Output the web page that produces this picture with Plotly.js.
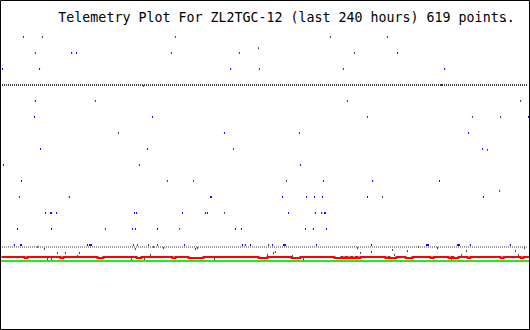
<!DOCTYPE html>
<html>
<head>
<meta charset="utf-8">
<script src="https://cdn.plot.ly/plotly-3.0.1.min.js"></script>
<style>
  html, body { margin: 0; padding: 0; background: #ffffff; }
  #chart { width: 530px; height: 330px; }
</style>
</head>
<body>
<div id="chart"></div>
<script>
// ---- Data (x: hours over the last 240 h, y: channel value in plot units) ----
const titleText = "Telemetry Plot For ZL2TGC-12 (last 240 hours) 619 points.";

// Channel 1 (dark) : dense run at level 10 plus scattered readings
const ch1RunHours = [0.68, 238.86];
const ch1RunLevel = [10, 10];
const ch1Hours = [125.0, 10.4, 19.0, 79.2, 149.4, 175.2, 15.8, 77.4, 108.2, 160.3, 116.8, 117.3, 155.3, 64.8,
  43.0, 157.1, 235.5, 166.2, 213.7, 226.4, 53.4, 135.4, 105.5, 220.5, 62.9, 75.6, 87.4, 129.5, 8.6, 173.0,
  226.0, 101.4, 47.5, 81.1, 60.2, 62.0, 67.0, 71.1, 121.4,
  16.8, 61.1, 69.3, 73.8, 19.9, 25.8, 29.4, 35.8, 34.9, 67.9, 21.3, 23.1, 59.3, 65.2, 88.3, 89.2, 161.7,
  120.9, 123.6, 124.5, 132.2, 96.9, 137.2, 163.0, 168.0, 177.5, 178.4, 184.3, 189.3, 197.9, 204.2, 208.8,
  211.0, 233.2, 234.6, 237.3];
const ch1Level = [14, 13, 13, 13, 13, 13, 12, 12, 12, 12, 12.3, 11, 11, 9.94,
  9, 9, 9, 8, 8, 8, 7, 7, 6, 5.94, 5, 4, 4, 4, 3, 3,
  3.38, 2, 1, 1, 0, 0, 0, 0, 0,
  -0.12, -0.25, -0.12, -0.19, -0.25, -0.5, -0.5, -0.5, -0.69, -0.62, -0.88, -0.88, -0.88, -0.88, -0.25, -0.19, -0.19,
  -0.62, -0.5, -0.44, -0.69, -0.88, -0.88, -0.5, -0.44, -0.31, -0.62, -0.38, -0.12, -0.19, -0.88, -0.62,
  -0.38, -0.38, -0.62, -0.19];

// Channel 2 (blue) : scattered readings
const ch2Hours = [228.7, 32.2, 34.4, 179.8, 0.9, 17.7, 104.2, 201.1, 199.7, 15.8, 15.4, 68.8, 239.1,
  101.4, 211.9, 18.1, 66.6, 218.3, 1.4, 135.8, 9.5, 146.3, 168.5, 198.8,
  31.2, 95.1, 95.5, 127.7, 138.6, 142.2, 145.8, 166.2, 218.7,
  20.4, 22.6, 23.1, 25.4, 60.7, 61.6, 82.4, 92.8, 93.7, 130.4, 142.6, 145.4, 146.7, 147.2,
  7.7, 23.1, 59.8, 61.1, 71.1, 106.4, 109.1, 138.1, 141.7, 147.6,
  6.3, 9.1, 9.5, 39.4, 40.3, 40.8, 41.2, 83.3, 109.6, 110.9, 113.2, 123.2, 128.2, 128.6, 129.1, 143.1,
  168.0, 192.9, 193.4, 193.8, 206.9, 207.4, 207.8, 212.8, 230.9];
const ch2Level = [14, 12, 12, 12, 11, 11, 11, 11, 10, 9, 8, 8, 8,
  7, 7, 6, 6, 6, 5, 5, 4, 4, 4, 4,
  3, 3, 3, 3, 3, 3, 3, 3, 3,
  2, 2, 2, 2, 2, 2, 2, 2, 2, 2, 2, 2, 2, 2,
  1, 1, 1, 1, 1, 1, 1, 1, 1, 1,
  0, 0, 0, 0, 0, 0, 0, 0, 0, 0, 0, 0, 0, 0, 0, 0,
  0, 0, 0, 0, 0, 0, 0, 0, 0];

// Channel 3 (grey) : dense run just under level 0
const ch3RunHours = [0.68, 238.86];
const ch3RunLevel = [-0.125, -0.125];

// Channel 4 (red) : step trace with small drops
const ch4Hours = [0.45, 10.9, 12.2, 27.2, 28.5, 43.9, 46.6, 61.6, 63.8, 77.9, 79.2, 85.1, 91.9, 116.8, 120.9,
  131.8, 135.8, 151.2, 154.4, 154.9, 156.2, 157.1, 158.5, 159.4, 160.8, 161.7, 163.0, 174.3, 175.7, 176.1,
  179.3, 183.4, 186.6, 194.7, 196.1, 202.9, 204.2, 205.1, 207.4, 211.5, 212.8, 226.4, 227.8, 235.5, 236.8, 239.3];
const ch4Level = [-0.75, -0.81, -0.75, -0.81, -0.75, -0.81, -0.75, -0.81, -0.75, -0.81, -0.75, -0.81, -0.75, -0.81, -0.75,
  -0.81, -0.75, -0.81, -0.75, -0.81, -0.75, -0.81, -0.75, -0.81, -0.75, -0.81, -0.75, -0.81, -0.75, -0.81,
  -0.75, -0.81, -0.75, -0.81, -0.75, -0.81, -0.75, -0.81, -0.75, -0.81, -0.75, -0.81, -0.75, -0.81, -0.75, -0.75];

// Channel 5 (green) : flat run
const ch5RunHours = [0.45, 239.3];
const ch5RunLevel = [-1, -1];

// ---- Traces ----
const tick = (color) => ({symbol: 'line-ns-open', size: 1.43, color: color, line: {width: 1, color: color}});

const traces = [
  {x: ch5RunHours, y: ch5RunLevel, mode: 'lines', line: {color: '#00ff00', width: 2}, hoverinfo: 'skip'},
  {x: ch5RunHours, y: ch5RunLevel, mode: 'lines', line: {color: '#a0a0a0', width: 2, dash: '1px,5px'}, hoverinfo: 'skip'},
  {x: ch4Hours, y: ch4Level, mode: 'lines', line: {color: '#ff0000', width: 2, shape: 'hv'}, hoverinfo: 'skip'},
  {x: ch3RunHours, y: ch3RunLevel, mode: 'lines', line: {color: '#a0a0a0', width: 2, dash: '1px,1px'}, hoverinfo: 'skip'},
  {x: ch1RunHours, y: ch1RunLevel, mode: 'lines', line: {color: '#404040', width: 2, dash: '1px,1px'}, hoverinfo: 'skip'},
  {x: ch1Hours, y: ch1Level, mode: 'markers', marker: tick('#404040'), hoverinfo: 'skip'},
  {x: ch2Hours, y: ch2Level, mode: 'markers', marker: tick('#0000ff'), hoverinfo: 'skip'}
];

const layout = {
  width: 530, height: 330,
  margin: {l: 0, r: 0, t: 0, b: 0, pad: 0},
  paper_bgcolor: '#ffffff', plot_bgcolor: '#ffffff',
  showlegend: false,
  title: {
    text: titleText,
    font: {family: 'DejaVu Sans Mono', size: 13.3, color: '#000000'},
    x: 286.5 / 530, xanchor: 'center', xref: 'paper',
    y: 1 - 17.5 / 330, yanchor: 'middle', yref: 'container'
  },
  xaxis: {range: [-0.2264, 239.7736], visible: false, showgrid: false, zeroline: false, fixedrange: true},
  yaxis: {range: [-5.3125, 15.3125], visible: false, showgrid: false, zeroline: false, fixedrange: true},
  shapes: [{
    type: 'rect', xref: 'paper', yref: 'paper',
    x0: 0.5 / 530, x1: 1 - 0.5 / 530, y0: 0.5 / 330, y1: 1 - 0.5 / 330,
    line: {color: '#000000', width: 1}, fillcolor: 'rgba(0,0,0,0)', layer: 'above'
  }]
};

Plotly.newPlot('chart', traces, layout, {staticPlot: true, displayModeBar: false});
</script>
</body>
</html>
